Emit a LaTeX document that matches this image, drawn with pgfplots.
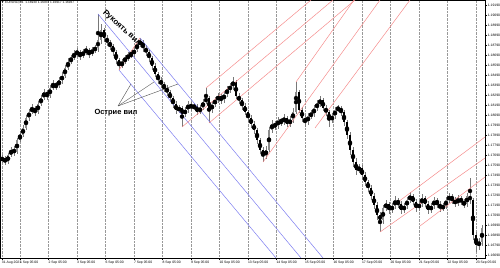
\documentclass[border=0pt]{standalone}
\usepackage{fontspec}
\setmainfont{Liberation Sans}
\usepackage{pgfplots}
\pgfplotsset{compat=1.18}
\usepackage{pgfplotstable}
\definecolor{pfblue}{RGB}{125,125,240}
\definecolor{pfred}{RGB}{245,140,140}
\definecolor{wick}{RGB}{120,120,120}

\pgfplotstableread{
x o h l c
2 1.1764 1.1769 1.1761 1.1766
5 1.1766 1.1768 1.1759 1.1762
8 1.1762 1.1771 1.1760 1.1769
11 1.1769 1.1777 1.1767 1.1774
14 1.1774 1.1778 1.1768 1.1772
17 1.1772 1.1786 1.1770 1.1784
20 1.1784 1.1793 1.1782 1.1789
23 1.1789 1.1799 1.1787 1.1796
26 1.1796 1.1809 1.1794 1.1806
29 1.1806 1.1815 1.1803 1.1812
32 1.1812 1.1820 1.1810 1.1816
35 1.1816 1.1818 1.1808 1.1812
38 1.1812 1.1823 1.1810 1.1820
41 1.1820 1.1829 1.1818 1.1826
44 1.1826 1.1835 1.1824 1.1832
47 1.1832 1.1834 1.1824 1.1828
50 1.1828 1.1839 1.1826 1.1836
53 1.1836 1.1844 1.1834 1.1840
56 1.1840 1.1842 1.1834 1.1838
59 1.1838 1.1847 1.1836 1.1844
62 1.1844 1.1852 1.1840 1.1848
65 1.1848 1.1859 1.1846 1.1856
68 1.1856 1.1866 1.1854 1.1862
71 1.1862 1.1869 1.1860 1.1866
74 1.1866 1.1874 1.1864 1.1870
77 1.1870 1.1876 1.1867 1.1872
80 1.1872 1.1874 1.1864 1.1868
83 1.1868 1.1875 1.1866 1.1872
86 1.1872 1.1878 1.1869 1.1874
89 1.1874 1.1876 1.1866 1.1870
92 1.1870 1.1877 1.1868 1.1874
95 1.1874 1.1879 1.1871 1.1876
98 1.1876 1.1910 1.1872 1.1884
101 1.1884 1.1900 1.1880 1.1894
104 1.1894 1.1896 1.1882 1.1886
107 1.1886 1.1889 1.1878 1.1882
110 1.1882 1.1884 1.1874 1.1878
113 1.1878 1.1880 1.1868 1.1872
116 1.1872 1.1874 1.1860 1.1864
119 1.1864 1.1866 1.1854 1.1858
122 1.1858 1.1865 1.1856 1.1862
125 1.1862 1.1869 1.1860 1.1866
128 1.1866 1.1872 1.1863 1.1868
131 1.1868 1.1874 1.1866 1.1870
134 1.1870 1.1877 1.1867 1.1874
137 1.1874 1.1883 1.1872 1.1880
140 1.1880 1.1886 1.1877 1.1882
143 1.1882 1.1884 1.1872 1.1876
146 1.1876 1.1879 1.1868 1.1872
149 1.1872 1.1874 1.1862 1.1866
152 1.1866 1.1868 1.1854 1.1858
155 1.1858 1.1861 1.1847 1.1850
158 1.1850 1.1852 1.1840 1.1844
161 1.1844 1.1847 1.1836 1.1840
164 1.1840 1.1842 1.1832 1.1836
167 1.1836 1.1839 1.1828 1.1832
170 1.1832 1.1834 1.1822 1.1826
173 1.1826 1.1828 1.1816 1.1820
176 1.1820 1.1823 1.1810 1.1814
179 1.1814 1.1819 1.1811 1.1816
182 1.1816 1.1818 1.1797 1.1810
185 1.1810 1.1817 1.1807 1.1814
188 1.1814 1.1823 1.1811 1.1820
191 1.1820 1.1822 1.1813 1.1816
194 1.1816 1.1821 1.1814 1.1818
197 1.1818 1.1820 1.1809 1.1812
200 1.1812 1.1819 1.1810 1.1816
203 1.1816 1.1825 1.1814 1.1822
206 1.1822 1.1836 1.1820 1.1826
209 1.1826 1.1828 1.1801 1.1814
212 1.1814 1.1823 1.1811 1.1820
215 1.1820 1.1827 1.1817 1.1824
218 1.1824 1.1831 1.1821 1.1828
221 1.1828 1.1830 1.1820 1.1824
224 1.1824 1.1833 1.1821 1.1830
227 1.1830 1.1838 1.1827 1.1834
230 1.1834 1.1841 1.1831 1.1838
233 1.1838 1.1847 1.1834 1.1842
236 1.1842 1.1844 1.1825 1.1828
239 1.1828 1.1831 1.1820 1.1824
242 1.1824 1.1826 1.1814 1.1818
245 1.1818 1.1821 1.1809 1.1812
248 1.1812 1.1814 1.1802 1.1806
251 1.1806 1.1809 1.1796 1.1800
254 1.1800 1.1803 1.1790 1.1794
257 1.1794 1.1796 1.1780 1.1784
260 1.1784 1.1786 1.1770 1.1774
263 1.1774 1.1777 1.1762 1.1768
266 1.1768 1.1778 1.1765 1.1774
269 1.1774 1.1797 1.1772 1.1794
272 1.1794 1.1804 1.1791 1.1800
275 1.1800 1.1803 1.1794 1.1798
278 1.1798 1.1807 1.1795 1.1804
281 1.1804 1.1806 1.1798 1.1802
284 1.1802 1.1810 1.1799 1.1806
287 1.1806 1.1808 1.1797 1.1800
290 1.1800 1.1808 1.1797 1.1804
293 1.1804 1.1816 1.1801 1.1812
296 1.1812 1.1842 1.1810 1.1832
299 1.1832 1.1834 1.1811 1.1814
302 1.1814 1.1817 1.1802 1.1806
305 1.1806 1.1809 1.1797 1.1802
308 1.1802 1.1811 1.1799 1.1808
311 1.1808 1.1814 1.1805 1.1810
314 1.1810 1.1819 1.1807 1.1816
317 1.1816 1.1824 1.1813 1.1820
320 1.1820 1.1828 1.1817 1.1824
323 1.1824 1.1826 1.1813 1.1816
326 1.1816 1.1819 1.1808 1.1812
329 1.1812 1.1814 1.1797 1.1804
332 1.1804 1.1811 1.1801 1.1808
335 1.1808 1.1817 1.1805 1.1814
338 1.1814 1.1819 1.1812 1.1816
341 1.1816 1.1818 1.1808 1.1812
344 1.1812 1.1814 1.1798 1.1802
347 1.1802 1.1804 1.1785 1.1789
350 1.1789 1.1792 1.1769 1.1774
353 1.1774 1.1777 1.1757 1.1762
356 1.1762 1.1766 1.1749 1.1754
359 1.1754 1.1760 1.1751 1.1756
362 1.1756 1.1759 1.1744 1.1749
365 1.1749 1.1752 1.1738 1.1742
368 1.1742 1.1744 1.1732 1.1736
371 1.1736 1.1739 1.1724 1.1728
374 1.1728 1.1731 1.1715 1.1719
377 1.1719 1.1722 1.1704 1.1709
380 1.1709 1.1712 1.1692 1.1704
383 1.1704 1.1719 1.1700 1.1716
386 1.1716 1.1724 1.1713 1.1720
389 1.1720 1.1722 1.1710 1.1714
392 1.1714 1.1721 1.1711 1.1718
395 1.1718 1.1728 1.1715 1.1724
398 1.1724 1.1726 1.1716 1.1720
401 1.1720 1.1723 1.1710 1.1714
404 1.1714 1.1721 1.1711 1.1718
407 1.1718 1.1727 1.1715 1.1724
410 1.1724 1.1732 1.1721 1.1728
413 1.1728 1.1730 1.1719 1.1722
416 1.1722 1.1725 1.1712 1.1716
419 1.1716 1.1723 1.1713 1.1720
422 1.1720 1.1730 1.1717 1.1726
425 1.1726 1.1728 1.1717 1.1720
428 1.1720 1.1723 1.1710 1.1714
431 1.1714 1.1721 1.1711 1.1718
434 1.1718 1.1727 1.1715 1.1724
437 1.1724 1.1726 1.1716 1.1720
440 1.1720 1.1723 1.1712 1.1716
443 1.1716 1.1721 1.1713 1.1718
446 1.1718 1.1727 1.1715 1.1724
449 1.1724 1.1731 1.1721 1.1728
452 1.1728 1.1730 1.1720 1.1724
455 1.1724 1.1727 1.1717 1.1720
458 1.1720 1.1729 1.1718 1.1726
461 1.1726 1.1728 1.1719 1.1722
464 1.1722 1.1725 1.1716 1.1720
467 1.1720 1.1731 1.1717 1.1728
470 1.1728 1.1746 1.1720 1.1724
473 1.1724 1.1726 1.1684 1.1689
476 1.1689 1.1692 1.1672 1.1679
479 1.1679 1.1686 1.1674 1.1682
482 1.1682 1.1699 1.1678 1.1696
}\candles

\begin{document}
\begin{tikzpicture}
\useasboundingbox (0,-10bp) rectangle (500bp,258bp);
\begin{axis}[
  at={(0,0)}, anchor=south west,
  scale only axis, width=485bp, height=258bp,
  xmin=0, xmax=485, ymin=1.1666, ymax=1.1924,
  axis line style={black, line width=0.6bp},
  xtick={2,20,48.5,77,105.5,134,162.5,191,219.5,248,276.5,305,333.5,362,390.5,419,447.5,476},
  xticklabels={31 Aug 2021,1 Sep 05:00,2 Sep 05:00,3 Sep 05:00,6 Sep 05:00,7 Sep 05:00,8 Sep 05:00,9 Sep 05:00,10 Sep 05:00,13 Sep 05:00,14 Sep 05:00,15 Sep 05:00,16 Sep 05:00,17 Sep 05:00,20 Sep 05:00,21 Sep 05:00,22 Sep 05:00,23 Sep 05:00},
  ytick={1.1669,1.1679,1.1689,1.1699,1.1709,1.1719,1.1729,1.1739,1.1749,1.1759,1.1769,1.1779,1.1789,1.1799,1.1809,1.1819,1.1829,1.1839,1.1849,1.1859,1.1869,1.1879,1.1889,1.1899,1.1909,1.1919},
  yticklabels={1.16690,1.16790,1.16890,1.16990,1.17090,1.17190,1.17290,1.17390,1.17490,1.17590,1.17690,1.17790,1.17890,1.17990,1.18090,1.18190,1.18290,1.18390,1.18490,1.18590,1.18690,1.18790,1.18890,1.18990,1.19090,1.19190},
  xtick pos=bottom, ytick pos=right, yticklabel pos=right,
  tick align=outside, major tick length=2bp,
  tick style={black, line width=0.4bp},
  xticklabel style={anchor=north west, inner sep=0.6bp, xshift=-0.8bp, font=\fontsize{3.4}{4}\selectfont},
  yticklabel style={anchor=west, inner sep=0.6bp, font=\fontsize{3.4}{4}\selectfont},
  xmajorgrids=true, ymajorgrids=false,
  major x grid style={densely dotted, gray!80, line width=0.4bp},
  unbounded coords=discard,
  clip=true,
]
% wicks
\addplot[only marks, mark=none, error bars/.cd, y dir=both, y explicit, error mark=none,
  error bar style={draw=wick, line width=0.5bp}]
  table[x=x, y expr={(\thisrow{h}+\thisrow{l})/2}, y error expr={(\thisrow{h}-\thisrow{l})/2}] {\candles};
% bull bodies
\addplot[only marks, mark=none, error bars/.cd, y dir=both, y explicit, error mark=none,
  error bar style={draw=black!45, line width=1.1bp}]
  table[x=x, y expr={\thisrow{c}>\thisrow{o} ? (\thisrow{o}+\thisrow{c})/2 : nan}, y error expr={abs(\thisrow{o}-\thisrow{c})/2+0.00002}] {\candles};
% bear bodies
\addplot[only marks, mark=none, error bars/.cd, y dir=both, y explicit, error mark=none,
  error bar style={draw=black, line width=1.1bp}]
  table[x=x, y expr={\thisrow{c}>\thisrow{o} ? nan : (\thisrow{o}+\thisrow{c})/2}, y error expr={abs(\thisrow{o}-\thisrow{c})/2+0.00002}] {\candles};

% blue pitchfork (down)
\addplot[pfblue, line width=0.5bp] coordinates {(98,1.1910) (301,1.1666)};
\addplot[pfblue, line width=0.5bp] coordinates {(119,1.1854) (276,1.1666)};
\addplot[pfblue, line width=0.5bp] coordinates {(140,1.1886) (323,1.1666)};
\addplot[pfred, line width=0.6bp] coordinates {(119,1.1854) (140,1.1886)};

% red pitchfork 1
\addplot[pfred, line width=0.5bp] coordinates {(182,1.1797) (333,1.1924)};
\addplot[pfred, line width=0.5bp] coordinates {(206,1.1836) (311,1.1924)};
\addplot[pfred, line width=0.5bp] coordinates {(209,1.1801) (355,1.1924)};
% red pitchfork 2
\addplot[pfred, line width=0.5bp] coordinates {(263,1.1762) (380,1.1924)};
\addplot[pfred, line width=0.5bp] coordinates {(296,1.1842) (354,1.1924)};
\addplot[pfred, line width=0.5bp] coordinates {(315,1.1796) (410,1.1924)};
% red pitchfork 3
\addplot[pfred, line width=0.5bp] coordinates {(398,1.1722) (485,1.1787)};
\addplot[pfred, line width=0.5bp] coordinates {(380,1.1692) (485,1.1766)};
\addplot[pfred, line width=0.5bp] coordinates {(420,1.1698) (485,1.1747)};

% pointers
\addplot[gray!60!black, line width=0.4bp] coordinates {(118,1.1818) (131,1.1840)};
\addplot[gray!60!black, line width=0.4bp] coordinates {(118,1.1818) (154,1.1842)};
\addplot[gray!60!black, line width=0.4bp] coordinates {(118,1.1818) (178,1.1840)};

\node[rotate=-42, font=\bfseries\fontsize{8}{9}\selectfont] at (axis cs:122,1.1896) {Рукоять вил};
\node[font=\bfseries\fontsize{7.5}{8}\selectfont] at (axis cs:116,1.1811) {Острие вил};
\node[anchor=north west, inner sep=1bp, font=\fontsize{3.2}{4}\selectfont] at (rel axis cs:0,1) {▼ EURUSD,H1\ \ 1.16930 1.16937 1.16917 1.16937};
\end{axis}
\end{tikzpicture}
\end{document}
